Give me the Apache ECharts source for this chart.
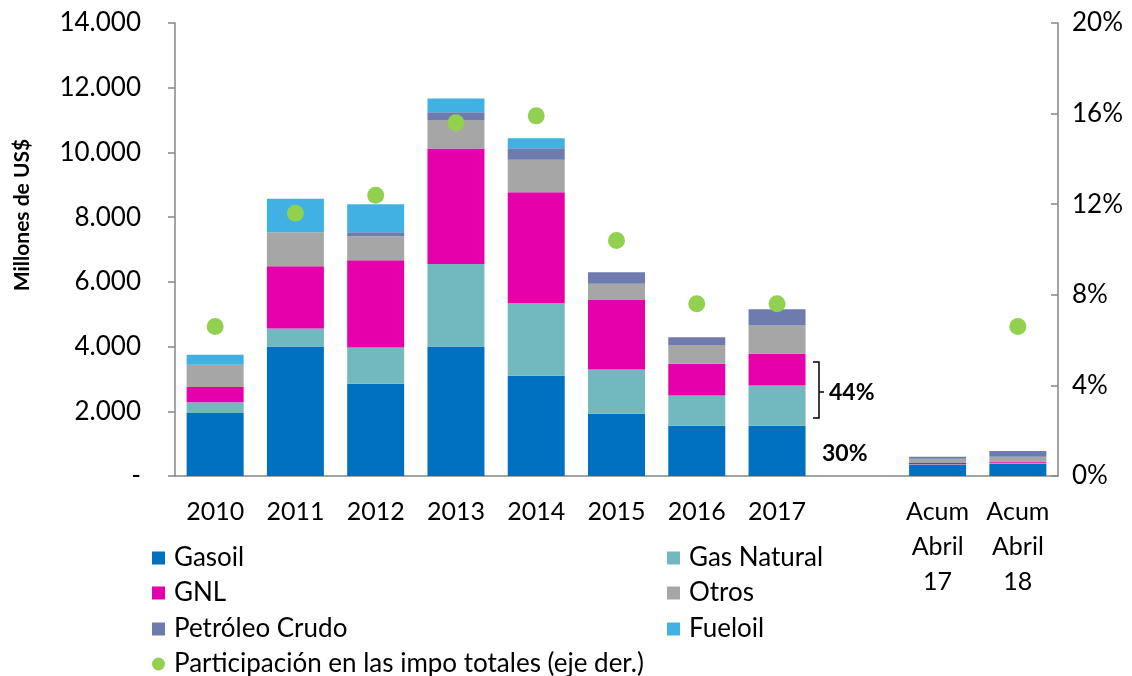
<!DOCTYPE html>
<html>
<head>
<meta charset="utf-8">
<script src="https://cdn.jsdelivr.net/npm/echarts@6/dist/echarts.min.js"></script>
<style>
  html, body { margin: 0; padding: 0; background: #fff; }
  #chart { width: 1132px; height: 676px; }
</style>
</head>
<body>
<div id="chart"></div>
<script>
var categories = ['2010', '2011', '2012', '2013', '2014', '2015', '2016', '2017', '', 'Acum\nAbril\n17', 'Acum\nAbril\n18'];

// millones de US$
var gasoil     = [1950, 4000, 2850, 4000, 3100, 1920, 1550, 1550, null, 340, 390];
var gasNatural = [330,  560, 1120, 2550, 2240, 1370,  940, 1250, null,  20,  20];
var gnl        = [470, 1920, 2700, 3575, 3430, 2150,  980,  980, null,  40,  40];
var otros      = [690, 1050,  740,  875, 1000,  500,  580,  875, null, 135, 145];
var petroleo   = [0,      0,  125,  240,  360,  360,  240,  500, null,  60, 175];
var fueloil    = [310, 1040,  865,  430,  310,    0,    0,    0, null,   0,   0];

// % de las importaciones totales (eje derecho)
var participacion = [6.6, 11.6, 12.4, 15.6, 15.9, 10.4, 7.6, 7.6, null, null, 6.6];

var FONT = 'Lato';
var chart = echarts.init(document.getElementById('chart'));

function barSerie(name, data, color) {
  return {
    name: name,
    type: 'bar',
    stack: 'impo',
    data: data,
    barCategoryGap: '29%',
    itemStyle: { color: color },
    emphasis: { disabled: true }
  };
}

function legendAt(name, left, top, icon) {
  return {
    data: [{ name: name, icon: icon || 'rect' }],
    left: left,
    top: top,
    padding: 0,
    itemWidth: 13,
    itemHeight: 13,
    itemGap: 0,
    selectedMode: false,
    textStyle: { fontFamily: FONT, fontSize: 26, color: '#000', padding: [0, 0, 0, 4] }
  };
}

var option = {
  animation: false,
  grid: { left: 175, right: 74, top: 23, bottom: 200 },
  legend: [
    legendAt('Gasoil', 152, 545),
    legendAt('Gas Natural', 667, 545),
    legendAt('GNL', 152, 580),
    legendAt('Otros', 667, 580),
    legendAt('Petróleo Crudo', 152, 616),
    legendAt('Fueloil', 667, 616),
    legendAt('Participación en las impo totales (eje der.)', 152, 651, 'circle')
  ],
  xAxis: {
    type: 'category',
    data: categories,
    axisLine: { lineStyle: { color: '#868686', width: 1.5 } },
    axisTick: { length: 9, lineStyle: { color: '#868686', width: 1.5 } },
    axisLabel: {
      fontFamily: FONT, fontSize: 25, color: '#000',
      margin: 18, lineHeight: 35, interval: 0
    }
  },
  yAxis: [{
    type: 'value',
    min: 0, max: 14000, interval: 2000,
    splitLine: { show: false },
    axisLine: { show: true, lineStyle: { color: '#868686', width: 1.5 } },
    axisTick: { show: true, length: 7, lineStyle: { color: '#868686', width: 1.5 } },
    axisLabel: {
      fontFamily: FONT, fontSize: 26, color: '#000', margin: 34,
      formatter: function (v) {
        if (v === 0) return '-';
        return String(v).replace(/\B(?=(\d{3})+(?!\d))/g, '.');
      }
    }
  }, {
    type: 'value',
    min: 0, max: 20, interval: 4,
    splitLine: { show: false },
    axisLine: { show: true, lineStyle: { color: '#868686', width: 1.5 } },
    axisTick: { show: true, inside: true, length: 7, lineStyle: { color: '#868686', width: 1.5 } },
    axisLabel: { fontFamily: FONT, fontSize: 26, color: '#000', margin: 14, formatter: '{value}%' }
  }],
  series: [
    barSerie('Gasoil', gasoil, '#0070C0'),
    barSerie('Gas Natural', gasNatural, '#72B8BF'),
    barSerie('GNL', gnl, '#E600AC'),
    barSerie('Otros', otros, '#A6A6A6'),
    barSerie('Petróleo Crudo', petroleo, '#6E7BAF'),
    barSerie('Fueloil', fueloil, '#41B0E2'),
    {
      name: 'Participación en las impo totales (eje der.)',
      type: 'scatter',
      yAxisIndex: 1,
      data: participacion,
      symbolSize: 17,
      itemStyle: { color: '#92D050', opacity: 1 },
      z: 5
    }
  ],
  graphic: [
    {
      type: 'text', x: 22, y: 215, rotation: Math.PI / 2,
      style: {
        text: 'Millones de US$', fontFamily: FONT, fontWeight: 'bold', fontSize: 21,
        fill: '#000', align: 'center', verticalAlign: 'middle'
      }
    },
    {
      type: 'polyline',
      shape: { points: [[813, 362], [819, 362], [819, 418], [813, 418]] },
      style: { stroke: '#000', lineWidth: 1.5, fill: null }
    },
    {
      type: 'line',
      shape: { x1: 819, y1: 392, x2: 824, y2: 392 },
      style: { stroke: '#000', lineWidth: 1.5 }
    },
    {
      type: 'text', x: 829, y: 393,
      style: { text: '44%', fontFamily: FONT, fontWeight: 'bold', fontSize: 23, fill: '#000', verticalAlign: 'middle' }
    },
    {
      type: 'text', x: 822, y: 454,
      style: { text: '30%', fontFamily: FONT, fontWeight: 'bold', fontSize: 23, fill: '#000', verticalAlign: 'middle' }
    }
  ]
};

chart.setOption(option);
</script>
</body>
</html>
